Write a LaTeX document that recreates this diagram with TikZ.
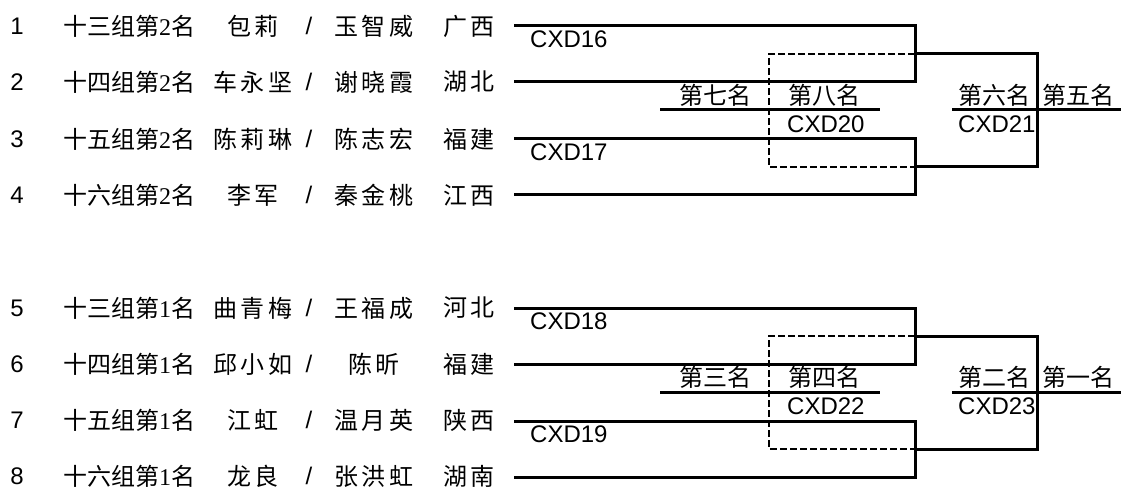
\documentclass[tikz,border=0pt]{standalone}
\usepackage{fontspec}
\setmainfont{Liberation Sans}
\newfontfamily\cjk{Noto Sans CJK SC}
\newfontfamily\cjksp{Noto Sans CJK SC}[LetterSpace=15]
\newfontfamily\serifnum{Liberation Serif}
\newcommand\dg[1]{{\serifnum #1}}
\begin{document}
\begin{tikzpicture}[x=1pt,y=-1pt,
  bline/.style={line width=3pt, line join=miter},
  dline/.style={line width=2.4pt, dash pattern=on 7pt off 3pt},
  numtxt/.style={font=\fontsize{24}{26}\selectfont, inner sep=0pt},
  cntxt/.style={font=\cjk\fontsize{24}{26}\selectfont, inner sep=0pt},
  nametxt/.style={font=\cjksp\fontsize{24}{26}\selectfont, inner sep=0pt},
  lattxt/.style={font=\fontsize{24}{26}\selectfont, inner sep=0pt}]
\useasboundingbox (0,0) rectangle (1121,489);
% left column
\foreach \i/\y/\g/\na/\nb/\p in {
  1/26/十三组第\dg{2}名/包莉/玉智威/广西,
  2/82/十四组第\dg{2}名/车永坚/谢晓霞/湖北,
  3/139/十五组第\dg{2}名/陈莉琳/陈志宏/福建,
  4/195/十六组第\dg{2}名/李军/秦金桃/江西,
  5/308/十三组第\dg{1}名/曲青梅/王福成/河北,
  6/364/十四组第\dg{1}名/邱小如/陈昕/福建,
  7/420/十五组第\dg{1}名/江虹/温月英/陕西,
  8/476/十六组第\dg{1}名/龙良/张洪虹/湖南}{
  \node[numtxt] (num\i) at (17,\y) {\i};
  \node[cntxt, anchor=west] (grp\i) at (63,\y) {\g};
  \node[nametxt] (na\i) at (253,\y) {\na};
  \node[lattxt] (sl\i) at (309,\y) {/};
  \node[nametxt] (nb\i) at (374,\y) {\nb};
  \node[nametxt] (pr\i) at (469,\y) {\p};
}
% brackets
\foreach \o/\h/\ma/\mb/\mc/\md/\mk/\ml/\mm/\mn in {
  0/u/CXD16/CXD17/CXD20/CXD21/第七名/第八名/第六名/第五名,
  282/l/CXD18/CXD19/CXD22/CXD23/第三名/第四名/第二名/第一名}{
  \coordinate (\h a1) at (514,26+\o);
  \coordinate (\h b1) at (915,26+\o);
  \coordinate (\h a2) at (514,82+\o);
  \coordinate (\h b2) at (915,82+\o);
  \coordinate (\h a3) at (514,139+\o);
  \coordinate (\h b3) at (915,139+\o);
  \coordinate (\h a4) at (514,195+\o);
  \coordinate (\h b4) at (915,195+\o);
  \coordinate (\h t) at (915,54+\o);
  \coordinate (\h bt) at (915,167+\o);
  \coordinate (\h dl) at (769,54+\o);
  \coordinate (\h dlb) at (769,167+\o);
  \coordinate (\h r) at (1037,54+\o);
  \coordinate (\h rb) at (1037,167+\o);
  \coordinate (\h m1) at (660,110+\o);
  \coordinate (\h m2) at (880,110+\o);
  \coordinate (\h f1) at (952,110+\o);
  \coordinate (\h f2) at (1121,110+\o);
  \draw[bline] (\h a1) -- (\h b1) -- (\h b2) -- (\h a2);
  \draw[bline] (\h a3) -- (\h b3) -- (\h b4) -- (\h a4);
  \draw[dline] (\h t) -- (\h dl) -- (\h dlb) -- (\h bt);
  \draw[bline] (\h t) -- (\h r) -- (\h rb) -- (\h bt);
  \draw[bline] (\h m1) -- (\h m2);
  \draw[bline] (\h f1) -- (\h f2);
  \node[lattxt, anchor=west] (\h c1) at (530,39+\o) {\ma};
  \node[lattxt, anchor=west] (\h c2) at (530,152+\o) {\mb};
  \node[lattxt, anchor=west] (\h c3) at (787,124.5+\o) {\mc};
  \node[lattxt, anchor=west] (\h c4) at (958,124.5+\o) {\md};
  \node[cntxt, anchor=east] (\h k1) at (752,95+\o) {\mk};
  \node[cntxt, anchor=west] (\h k2) at (788,95+\o) {\ml};
  \node[cntxt, anchor=west] (\h k3) at (958,95+\o) {\mm};
  \node[cntxt, anchor=west] (\h k4) at (1042,95+\o) {\mn};
}
\end{tikzpicture}
\end{document}
